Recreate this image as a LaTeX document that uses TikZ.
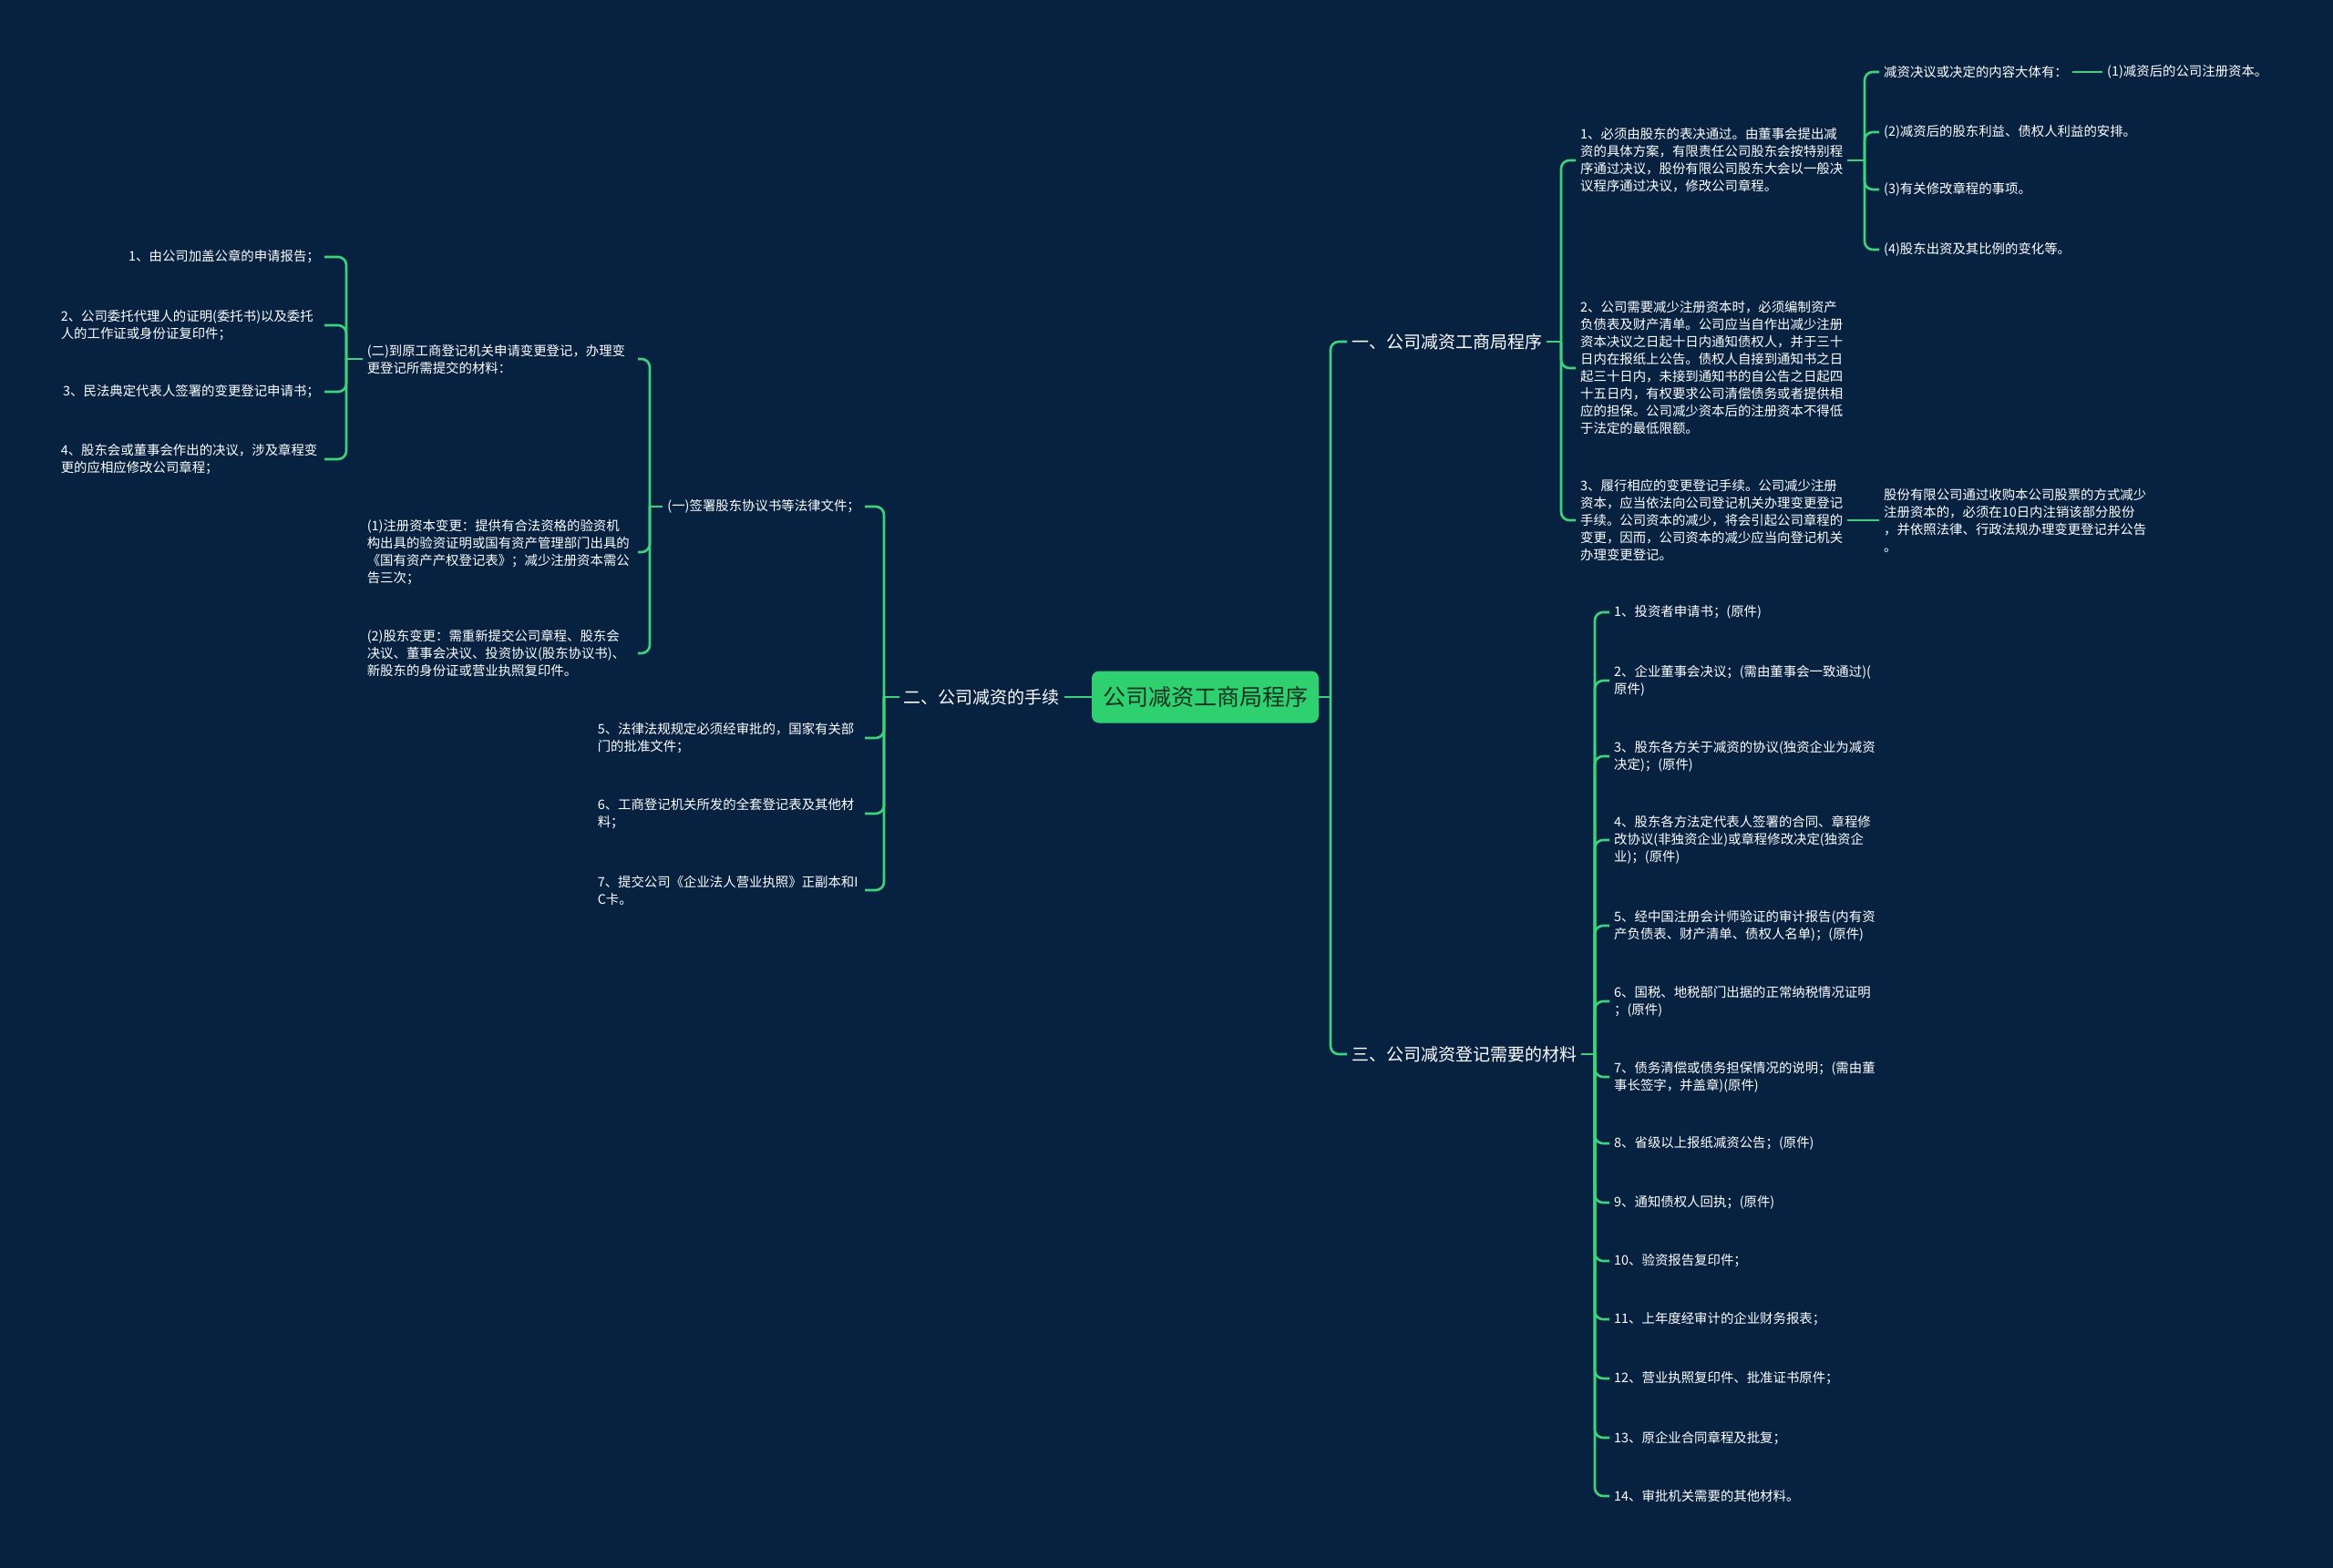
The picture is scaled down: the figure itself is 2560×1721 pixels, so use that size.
\documentclass[tikz,border=0pt]{standalone}
\usepackage{fontspec}
\setmainfont{Noto Sans CJK SC}
\definecolor{bg}{HTML}{062240}
\definecolor{ln}{HTML}{3FD27E}
\definecolor{ctr}{HTML}{2FD070}
\definecolor{ctrtxt}{HTML}{123322}
\begin{document}
\begin{tikzpicture}[x=1pt,y=-1pt,
  link/.style={draw=ln, line width=2.6pt},
  hook/.style={link, rounded corners=9pt},
  txt/.style={text=white, inner xsep=5pt, inner ysep=2pt, font=\fontsize{14.4}{19}\selectfont, align=left},
  txtw/.style={txt, text width=288pt},
  br/.style={text=white, inner xsep=5pt, inner ysep=2pt, font=\fontsize{19}{24}\selectfont},
  root/.style={fill=ctr, rounded corners=8pt, minimum width=249pt, minimum height=57pt, text=ctrtxt, font=\fontsize{25}{30}\selectfont, inner sep=0pt}]
\fill[bg] (0,0) rectangle (2560,1721);
\useasboundingbox (0,0) rectangle (2560,1721);

% root
\node[root] (C) at (1322.5,765) {公司减资工商局程序};

% main branches
\node[br, anchor=west] (R1) at (1478,375) {一、公司减资工商局程序};
\node[br, anchor=west] (R3) at (1478,1157) {三、公司减资登记需要的材料};
\node[br, anchor=east] (L2) at (1168,765) {二、公司减资的手续};

% branch one children
\node[txt, anchor=west] (A1) at (1729,176) {1、必须由股东的表决通过。由董事会提出减\\资的具体方案，有限责任公司股东会按特别程\\序通过决议，股份有限公司股东大会以一般决\\议程序通过决议，修改公司章程。};
\node[txt, anchor=west] (A2) at (1729,404) {2、公司需要减少注册资本时，必须编制资产\\负债表及财产清单。公司应当自作出减少注册\\资本决议之日起十日内通知债权人，并于三十\\日内在报纸上公告。债权人自接到通知书之日\\起三十日内，未接到通知书的自公告之日起四\\十五日内，有权要求公司清偿债务或者提供相\\应的担保。公司减少资本后的注册资本不得低\\于法定的最低限额。};
\node[txt, anchor=west] (A3) at (1729,571) {3、履行相应的变更登记手续。公司减少注册\\资本，应当依法向公司登记机关办理变更登记\\手续。公司资本的减少，将会引起公司章程的\\变更，因而，公司资本的减少应当向登记机关\\办理变更登记。};

\node[txt, anchor=west] (B1) at (2062,79) {减资决议或决定的内容大体有：};
\node[txt, anchor=west] (B1a) at (2307,79) {(1)减资后的公司注册资本。};
\node[txt, anchor=west] (B2) at (2062,145) {(2)减资后的股东利益、债权人利益的安排。};
\node[txt, anchor=west] (B3) at (2062,208) {(3)有关修改章程的事项。};
\node[txt, anchor=west] (B4) at (2062,274) {(4)股东出资及其比例的变化等。};
\node[txt, anchor=west] (D1) at (2062,571) {股份有限公司通过收购本公司股票的方式减少\\注册资本的，必须在10日内注销该部分股份\\，并依照法律、行政法规办理变更登记并公告\\。};

% branch three children
\node[txt, anchor=west] (M1) at (1766,672) {1、投资者申请书；(原件)};
\node[txt, anchor=west] (M2) at (1766,747) {2、企业董事会决议；(需由董事会一致通过)(\\原件)};
\node[txt, anchor=west] (M3) at (1766,830) {3、股东各方关于减资的协议(独资企业为减资\\决定)；(原件)};
\node[txt, anchor=west] (M4) at (1766,922) {4、股东各方法定代表人签署的合同、章程修\\改协议(非独资企业)或章程修改决定(独资企\\业)；(原件)};
\node[txt, anchor=west] (M5) at (1766,1016) {5、经中国注册会计师验证的审计报告(内有资\\产负债表、财产清单、债权人名单)；(原件)};
\node[txt, anchor=west] (M6) at (1766,1099) {6、国税、地税部门出据的正常纳税情况证明\\；(原件)};
\node[txt, anchor=west] (M7) at (1766,1182) {7、债务清偿或债务担保情况的说明；(需由董\\事长签字，并盖章)(原件)};
\node[txt, anchor=west] (M8) at (1766,1255) {8、省级以上报纸减资公告；(原件)};
\node[txt, anchor=west] (M9) at (1766,1320) {9、通知债权人回执；(原件)};
\node[txt, anchor=west] (M10) at (1766,1384) {10、验资报告复印件；};
\node[txt, anchor=west] (M11) at (1766,1448) {11、上年度经审计的企业财务报表；};
\node[txt, anchor=west] (M12) at (1766,1513) {12、营业执照复印件、批准证书原件；};
\node[txt, anchor=west] (M13) at (1766,1578) {13、原企业合同章程及批复；};
\node[txt, anchor=west] (M14) at (1766,1642) {14、审批机关需要的其他材料。};

% branch two children
\node[txt, anchor=east] (E1) at (949,556) {(一)签署股东协议书等法律文件；};
\node[txtw, anchor=east] (E5) at (949,810) {5、法律法规规定必须经审批的，国家有关部\\门的批准文件；};
\node[txtw, anchor=east] (E6) at (949,893) {6、工商登记机关所发的全套登记表及其他材\\料；};
\node[txtw, anchor=east] (E7) at (949,977) {7、提交公司《企业法人营业执照》正副本和I\\C卡。};

\node[txtw, anchor=east, text width=292pt] (F1) at (700,394) {(二)到原工商登记机关申请变更登记，办理变\\更登记所需提交的材料：};
\node[txtw, anchor=east, text width=292pt] (F2) at (700,606) {(1)注册资本变更：提供有合法资格的验资机\\构出具的验资证明或国有资产管理部门出具的\\《国有资产产权登记表》；减少注册资本需公\\告三次；};
\node[txtw, anchor=east, text width=292pt] (F3) at (700,717) {(2)股东变更：需重新提交公司章程、股东会\\决议、董事会决议、投资协议(股东协议书)、\\新股东的身份证或营业执照复印件。};

\node[txt, anchor=east] (G1) at (356,282) {1、由公司加盖公章的申请报告；};
\node[txtw, anchor=east, text width=284pt] (G2) at (356,357) {2、公司委托代理人的证明(委托书)以及委托\\人的工作证或身份证复印件；};
\node[txt, anchor=east] (G3) at (356,430) {3、民法典定代表人签署的变更登记申请书；};
\node[txtw, anchor=east, text width=284pt] (G4) at (356,504) {4、股东会或董事会作出的决议，涉及章程变\\更的应相应修改公司章程；};

% trunk points
\coordinate (t0) at (1460,765);
\coordinate (t1) at (1713,375);
\coordinate (t2) at (2046,176);
\coordinate (t3) at (1750,1157);
\coordinate (t4) at (970,765);
\coordinate (t5) at (713,556);
\coordinate (t6) at (380,394);

% connectors: root
\draw[link] (C.east) -- (t0);
\draw[hook] (t0) |- (R1.west);
\draw[hook] (t0) |- (R3.west);
\draw[link] (C.west) -- (L2.east);

% branch one
\draw[link] (R1.east) -- (t1);
\foreach \n in {A1,A2,A3} \draw[hook] (t1) |- (\n.west);
\draw[link] (A1.east) -- (t2);
\foreach \n in {B1,B2,B3,B4} \draw[hook] (t2) |- (\n.west);
\draw[link] (B1.east) -- (B1a.west);
\draw[link] (A3.east) -- (D1.west);

% branch three
\draw[link] (R3.east) -- (t3);
\foreach \n in {M1,M2,M3,M4,M5,M6,M7,M8,M9,M10,M11,M12,M13,M14} \draw[hook] (t3) |- (\n.west);

% branch two
\draw[link] (L2.west) -- (t4);
\foreach \n in {E1,E5,E6,E7} \draw[hook] (t4) |- (\n.east);
\draw[link] (E1.west) -- (t5);
\foreach \n in {F1,F2,F3} \draw[hook] (t5) |- (\n.east);
\draw[link] (F1.west) -- (t6);
\foreach \n in {G1,G2,G3,G4} \draw[hook] (t6) |- (\n.east);
\end{tikzpicture}
\end{document}
